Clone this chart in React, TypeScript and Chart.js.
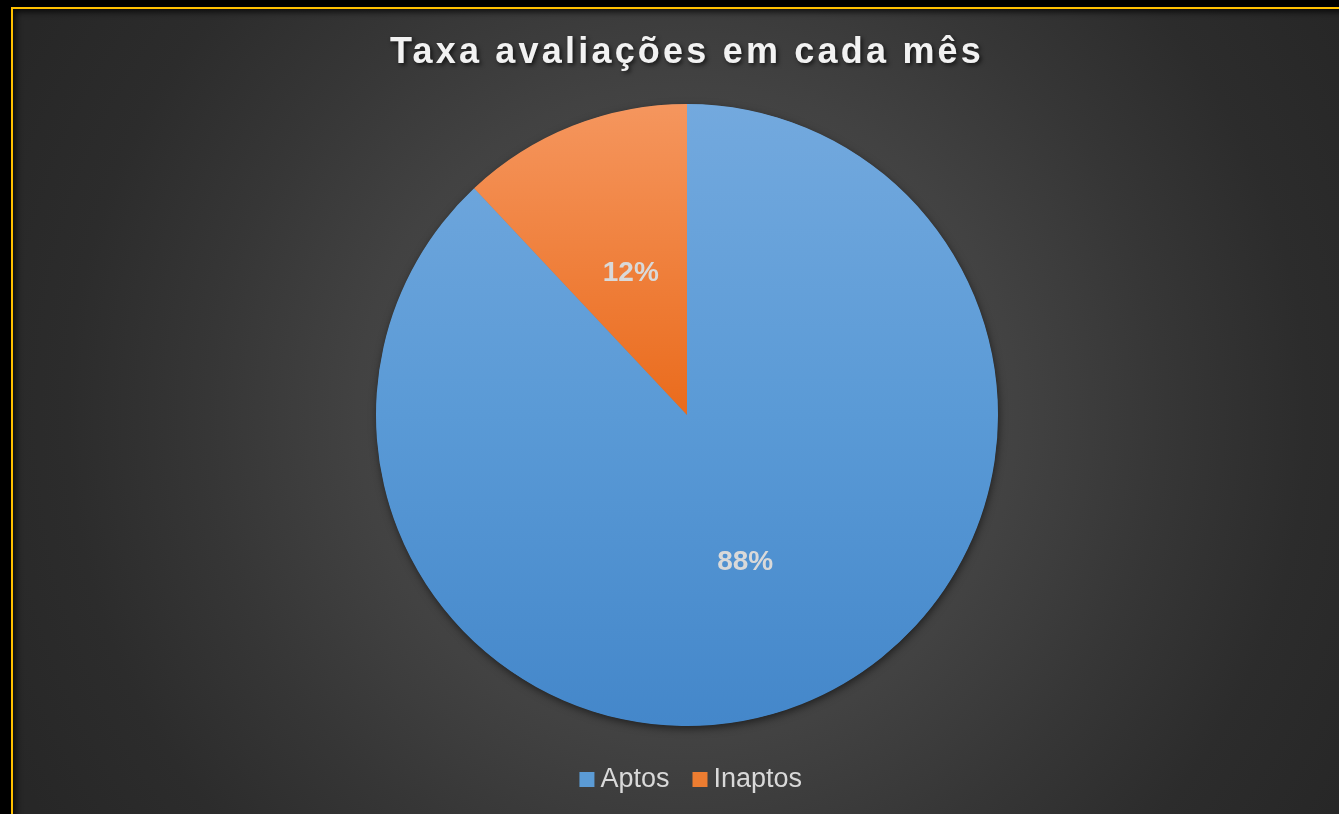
import React, { useEffect, useRef } from "react";
import { Chart, registerables } from "chart.js";

Chart.register(...registerables);

const TITLE = "Taxa avaliações em cada mês";
const categories = ["Aptos", "Inaptos"];
const values = [88, 12];
const valueLabels = ["88%", "12%"];

const FONT = "'Liberation Sans', Arial, sans-serif";
const BLUE_TOP = "#73a9de";
const BLUE_MID = "#5a9ad6";
const BLUE_BOTTOM = "#4487ca";
const ORANGE_TOP = "#f5965e";
const ORANGE_CENTER = "#ea6b1c";
const LEGEND_COLORS = ["#5b9bd5", "#ed7d31"];
const PIE_RADIUS = 311;

const pieDecor = {
  id: "pieDecor",
  afterLayout(chart: any) {
    const lg = chart.legend;
    if (lg) {
      lg.left += 7.5;
      lg.right += 7.5;
    }
  },
  beforeDraw(chart: any) {
    const tb = chart.titleBlock;
    if (tb && !tb.__patched) {
      const orig = tb.draw.bind(tb);
      tb.draw = (...args: any[]) => {
        const ctx = chart.ctx;
        ctx.save();
        (ctx as any).letterSpacing = "3.2px";
        ctx.shadowColor = "rgba(0,0,0,0.65)";
        ctx.shadowBlur = 4;
        ctx.shadowOffsetX = 2;
        ctx.shadowOffsetY = 2;
        orig(...args);
        ctx.restore();
      };
      tb.__patched = true;
    }
  },
  beforeDatasetsDraw(chart: any) {
    const meta = chart.getDatasetMeta(0);
    const arc = meta.data[0];
    if (!arc) return;
    const ctx = chart.ctx;
    ctx.save();
    ctx.shadowColor = "rgba(0,0,0,0.55)";
    ctx.shadowBlur = 8;
    ctx.shadowOffsetX = 1;
    ctx.shadowOffsetY = 3;
    ctx.fillStyle = "#4a8ccc";
    ctx.beginPath();
    ctx.arc(arc.x, arc.y, arc.outerRadius - 0.5, 0, Math.PI * 2);
    ctx.fill();
    ctx.restore();
  },
  afterDatasetsDraw(chart: any) {
    const meta = chart.getDatasetMeta(0);
    const ctx = chart.ctx;
    ctx.save();
    ctx.font = `bold 28px ${FONT}`;
    ctx.fillStyle = "#d9d9d9";
    ctx.textAlign = "center";
    ctx.textBaseline = "middle";
    meta.data.forEach((el: any, i: number) => {
      const p = el.getCenterPoint();
      ctx.fillText(valueLabels[i], p.x + 1, p.y + 3);
    });
    ctx.restore();
  },
};

export default function App() {
  const ref = useRef<HTMLCanvasElement>(null);

  useEffect(() => {
    if (!ref.current) return;
    const chart = new Chart(ref.current, {
      type: "pie",
      data: {
        labels: categories,
        datasets: [
          {
            data: values,
            radius: PIE_RADIUS,
            borderWidth: 0,
            backgroundColor: (c: any) => {
              const ch = c.chart;
              const area = ch.chartArea;
              if (!area) return LEGEND_COLORS[c.dataIndex] || LEGEND_COLORS[0];
              const cy = (area.top + area.bottom) / 2;
              const top = cy - PIE_RADIUS;
              if (c.dataIndex === 1) {
                const g2 = ch.ctx.createLinearGradient(0, top, 0, cy);
                g2.addColorStop(0, ORANGE_TOP);
                g2.addColorStop(1, ORANGE_CENTER);
                return g2;
              }
              const g = ch.ctx.createLinearGradient(0, top, 0, cy + PIE_RADIUS);
              g.addColorStop(0, BLUE_TOP);
              g.addColorStop(0.5, BLUE_MID);
              g.addColorStop(1, BLUE_BOTTOM);
              return g;
            },
          } as any,
        ],
      },
      options: {
        animation: false,
        responsive: true,
        maintainAspectRatio: false,
        layout: { padding: 0 },
        plugins: {
          title: {
            display: true,
            text: TITLE,
            color: "#f2f2f2",
            font: { size: 36, weight: "bold", family: FONT },
            padding: { top: 22.4, bottom: 19.9 },
          },
          legend: {
            position: "bottom",
            labels: {
              color: "#d9d9d9",
              font: { size: 27, family: FONT },
              usePointStyle: true,
              pointStyle: "rect",
              boxWidth: 0.01,
              boxHeight: 15,
              padding: 30.5,
              generateLabels: () =>
                categories.map((t, i) => ({
                  text: t,
                  fillStyle: LEGEND_COLORS[i],
                  strokeStyle: LEGEND_COLORS[i],
                  lineWidth: 0,
                  pointStyle: "rect",
                  hidden: false,
                  index: i,
                  fontColor: "#d9d9d9",
                })),
            },
          },
          tooltip: { enabled: false },
        },
      },
      plugins: [pieDecor],
    });
    chart.draw();
    return () => chart.destroy();
  }, []);

  return (
    <div
      style={{
        position: "fixed",
        inset: 0,
        background: "#000",
        overflow: "hidden",
      }}
    >
      <div
        style={{
          position: "absolute",
          left: 11,
          top: 7,
          width: 1348,
          height: 830,
          border: "2px solid #ffc000",
          background:
            "radial-gradient(circle at 674px 405px, #4e4e4e 0px, #4a4a4a 180px, #424242 330px, #363636 480px, #2c2c2c 620px, #272727 760px, #262626 950px)",
          boxShadow: "inset 0 0 6px 3px rgba(0,0,0,0.75)",
        }}
      >
        <div style={{ position: "relative", width: 1348, height: 794 }}>
          <canvas ref={ref} />
        </div>
      </div>
    </div>
  );
}
